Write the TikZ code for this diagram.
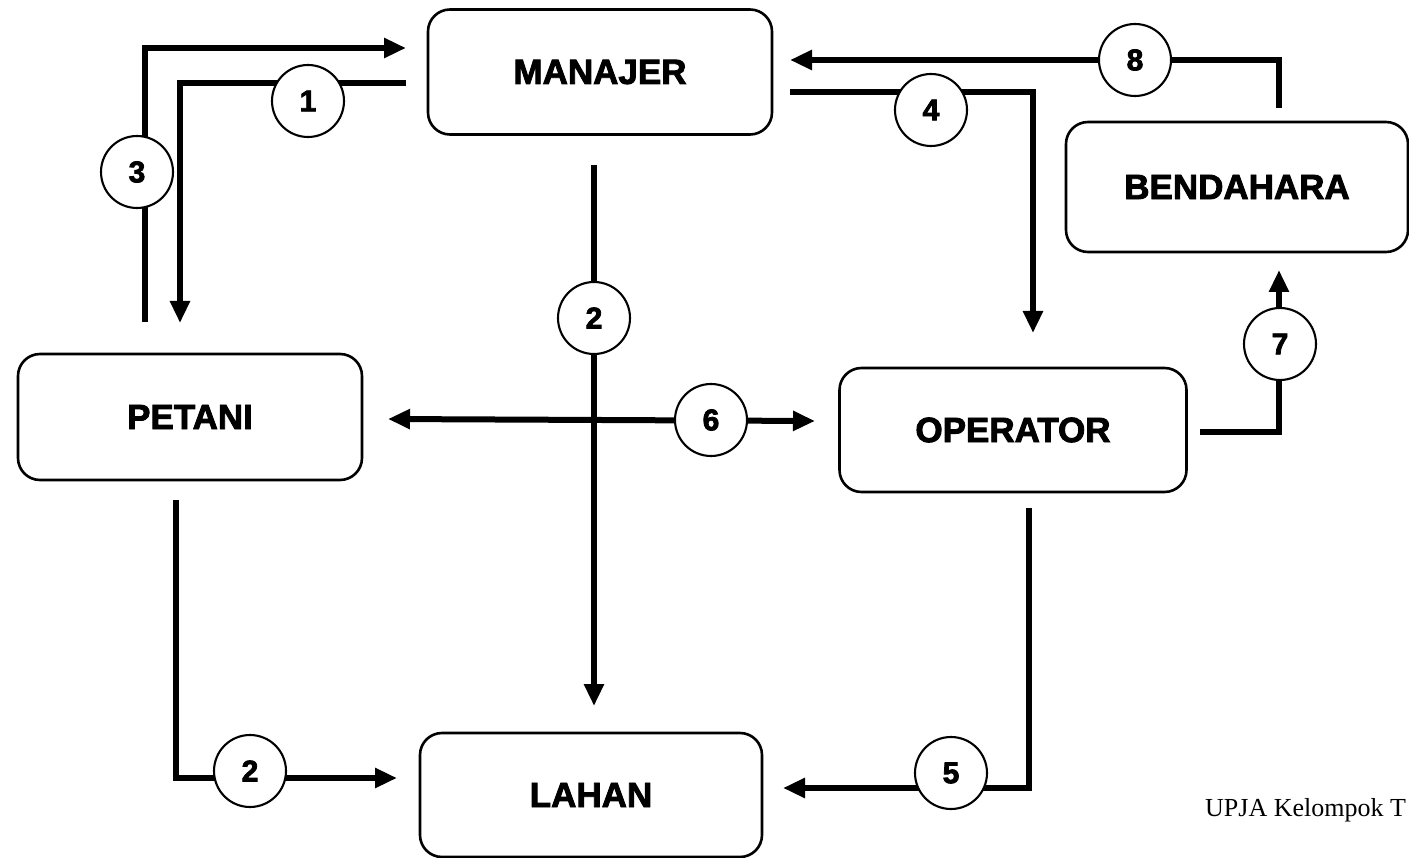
\documentclass[tikz,border=0pt]{standalone}
\usepackage{fontspec}
\setmainfont{Liberation Serif}
\newfontfamily\boxfont[BoldFeatures={FakeBold=2.5}]{Liberation Sans}
\usetikzlibrary{arrows.meta}
\begin{document}
\begin{tikzpicture}[x=1pt,y=-1pt,
  box/.style={draw, line width=2.6pt, rounded corners=22pt, inner sep=0pt,
    font=\boxfont\bfseries\fontsize{35}{35}\selectfont},
  num/.style={draw, circle, fill=white, line width=2.1pt, minimum size=72pt, inner sep=0pt,
    font=\boxfont\bfseries\fontsize{30}{30}\selectfont},
  flow/.style={line width=6pt, -{Triangle[length=22pt,width=19pt]}},
  twoway/.style={line width=6pt, {Triangle[length=22pt,width=19pt]}-{Triangle[length=22pt,width=19pt]}}]
\useasboundingbox (0,0) rectangle (1409,858);
\clip (0,0) rectangle (1409,858);

% units
\node[box, minimum width=344pt, minimum height=125pt] (man) at (600,72) {MANAJER};
\node[box, minimum width=342pt, minimum height=130pt] (ben) at (1237,187) {BENDAHARA};
\node[box, minimum width=344pt, minimum height=126pt] (pet) at (190,417) {PETANI};
\node[box, minimum width=347pt, minimum height=124pt] (ope) at (1013,430) {OPERATOR};
\node[box, minimum width=342pt, minimum height=124pt] (lah) at (591,795) {LAHAN};

% connector end points
\coordinate (a3s) at (145,322);  \coordinate (a3e) at (406,48);
\coordinate (a1s) at (406,83);   \coordinate (a1e) at (180,323);
\coordinate (a2s) at (594,165);  \coordinate (a2e) at (594,706);
\coordinate (a4s) at (790,92);   \coordinate (a4e) at (1033,333);
\coordinate (a8s) at (1279,108); \coordinate (a8e) at (790,60);
\coordinate (a7s) at (1200,432); \coordinate (a7e) at (1279,270);
\coordinate (a6s) at (388,419);  \coordinate (a6e) at (815,421);
\coordinate (b2s) at (176,500);  \coordinate (b2e) at (397,778);
\coordinate (a5s) at (1029,508); \coordinate (a5e) at (783,788);

% flows
\draw[flow] (a3s) |- (a3e);
\draw[flow] (a1s) -| (a1e);
\draw[flow] (a2s) -- (a2e);
\draw[flow] (a4s) -| (a4e);
\draw[flow] (a8s) |- (a8e);
\draw[flow] (a7s) -| (a7e);
\draw[twoway] (a6s) -- (a6e);
\draw[flow] (b2s) |- (b2e);
\draw[flow] (a5s) |- (a5e);

% step numbers
\node[num] (n1) at (308,101) {1};
\node[num] (n3) at (137,172) {3};
\node[num] (n2) at (594,318) {2};
\node[num] (n4) at (931,110) {4};
\node[num] (n8) at (1135,60) {8};
\node[num] (n7) at (1280,344) {7};
\node[num] (n6) at (711,420) {6};
\node[num] (n2b) at (250,771) {2};
\node[num] (n5) at (951,773) {5};

\node[anchor=base west, inner sep=0pt, font=\fontsize{26}{26}\selectfont] (cap) at (1205,816) {UPJA Kelompok T};
\end{tikzpicture}
\end{document}
